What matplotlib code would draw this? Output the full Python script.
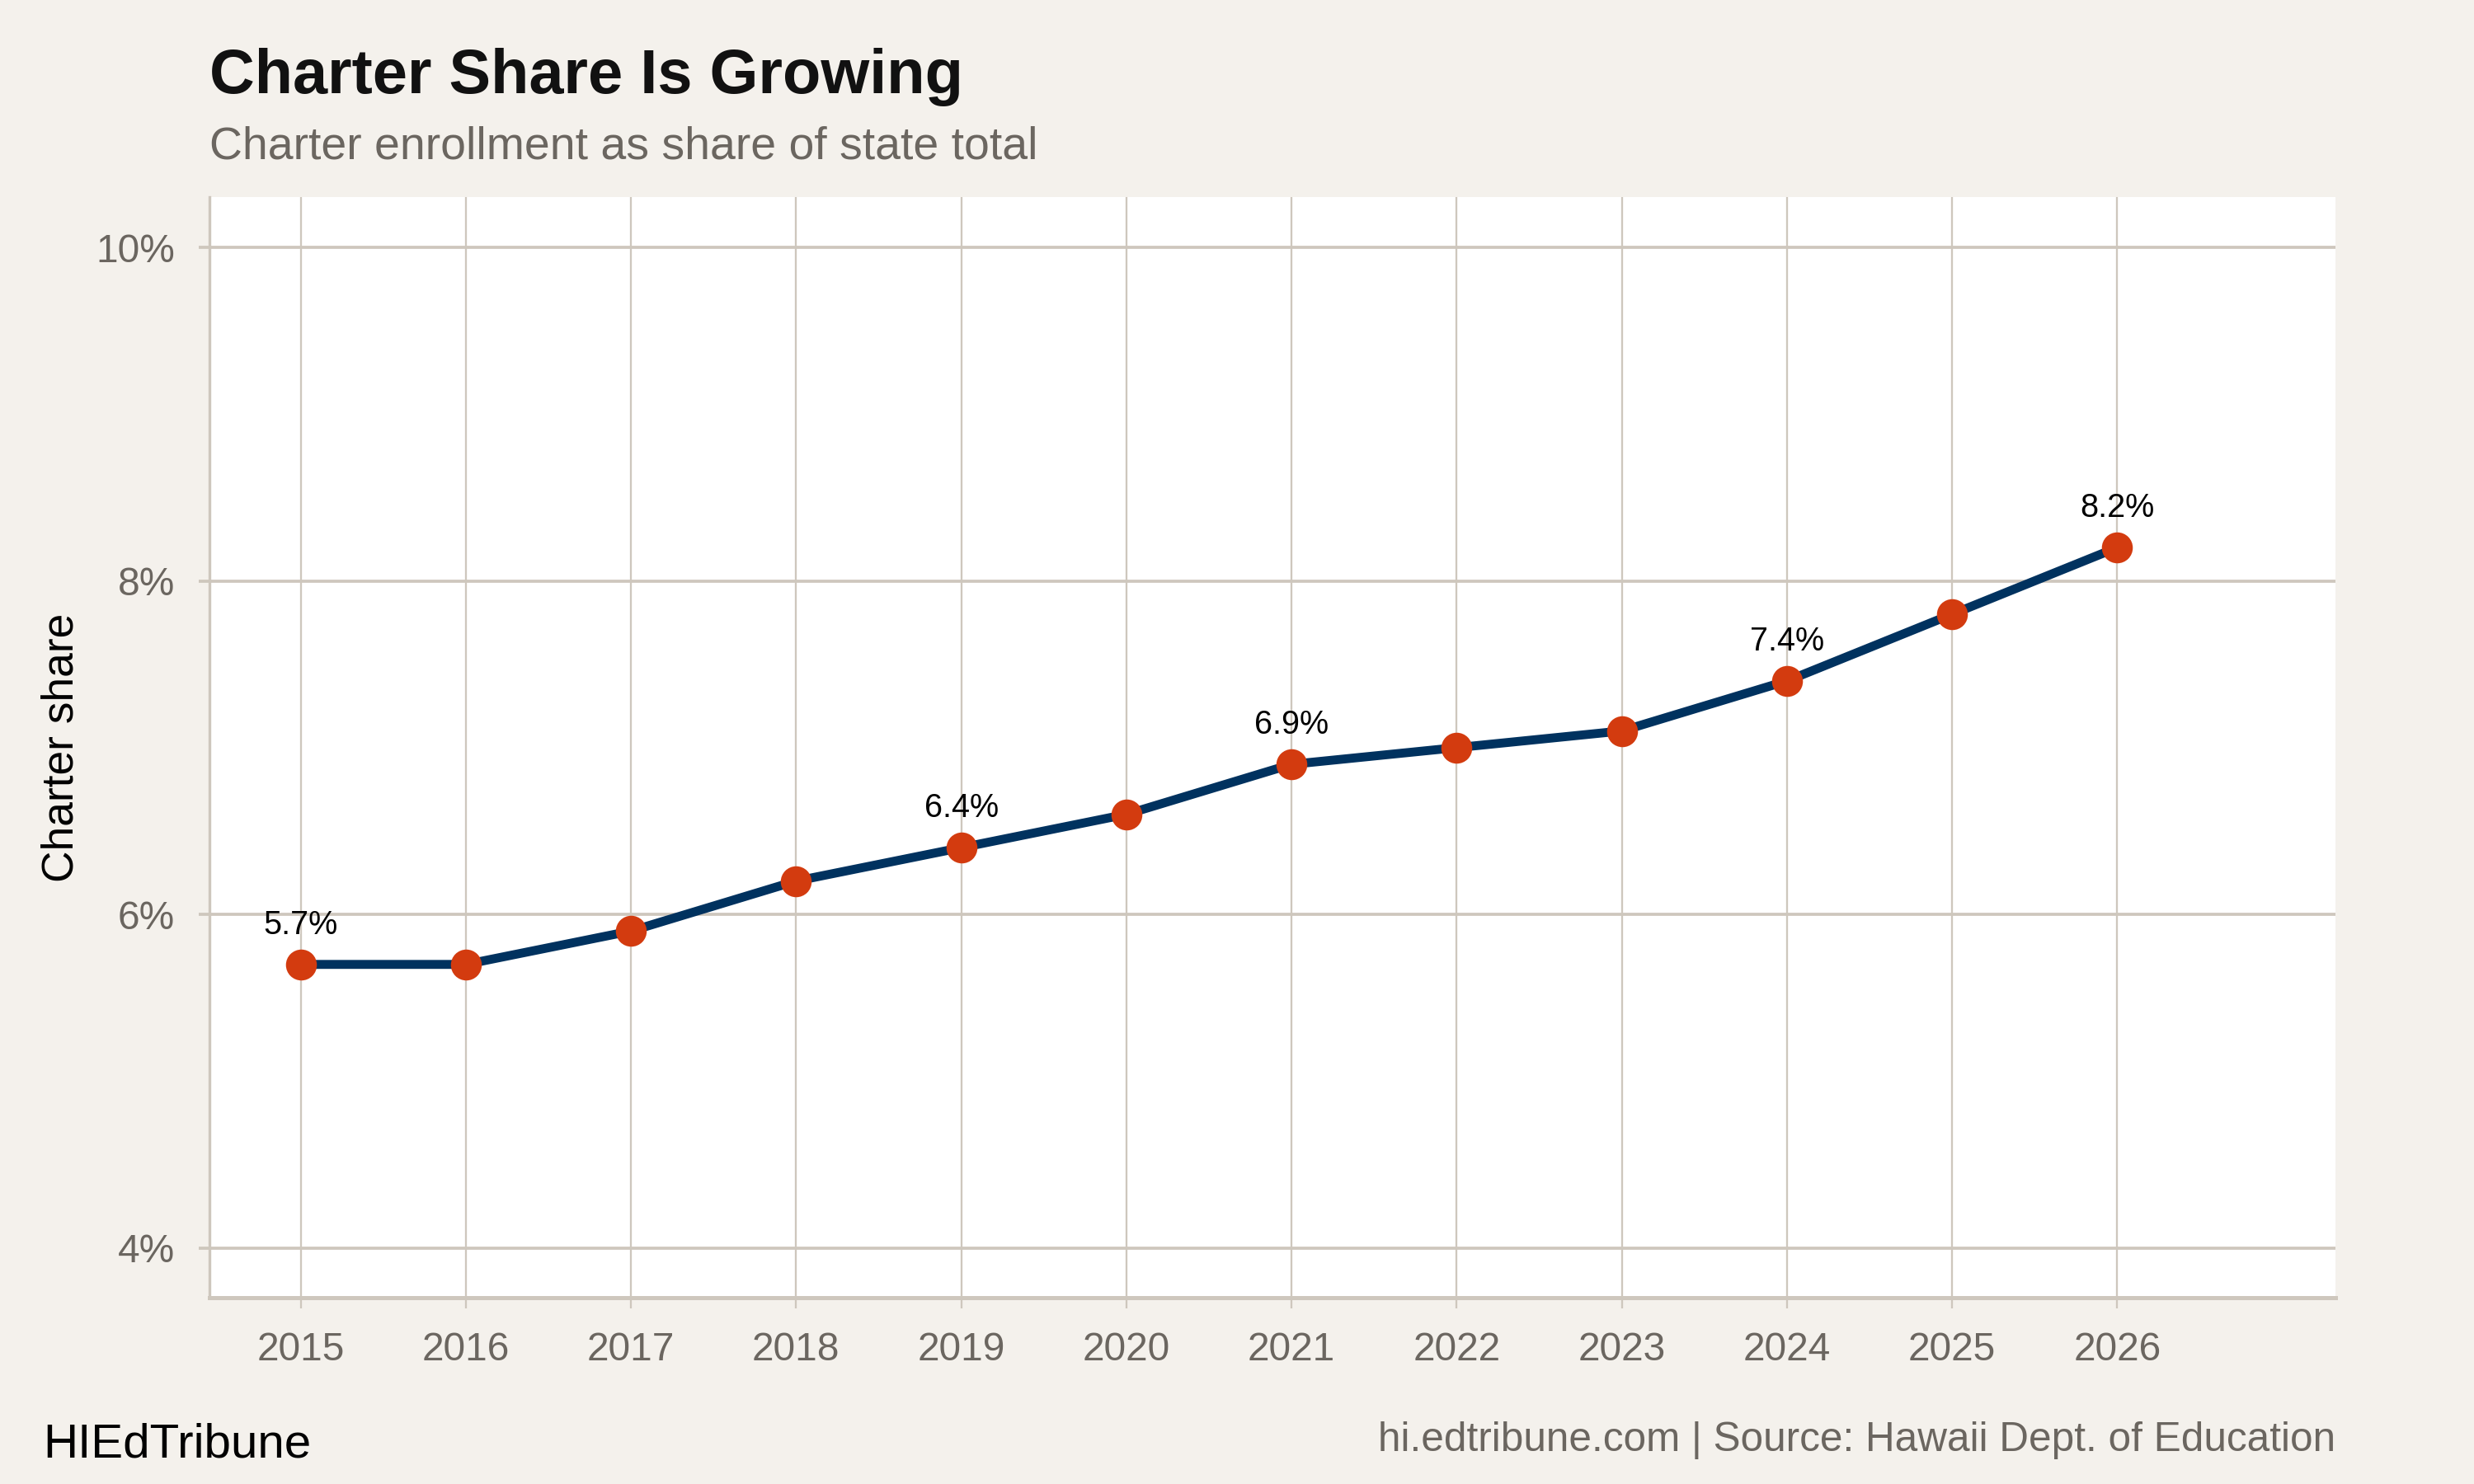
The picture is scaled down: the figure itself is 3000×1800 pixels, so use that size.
#!/usr/bin/env python3
"""Charter share of state enrollment, 2015-2026 (HIEdTribune style)."""
import matplotlib
matplotlib.use("Agg")
import matplotlib.pyplot as plt
from matplotlib.ticker import FuncFormatter

years = [2015, 2016, 2017, 2018, 2019, 2020, 2021, 2022, 2023, 2024, 2025, 2026]
share = [5.7, 5.7, 5.9, 6.2, 6.4, 6.6, 6.9, 7.0, 7.1, 7.4, 7.8, 8.2]
labelled_years = [2015, 2019, 2021, 2024, 2026]
y_ticks = [4, 6, 8, 10]

BG = "#f4f1ec"
GRID = "#cec7bd"
NAVY = "#00325f"
ORANGE = "#d33b0f"
GREY_TXT = "#6b6660"

plt.rcParams["font.family"] = ["Liberation Sans", "DejaVu Sans"]

fig = plt.figure(figsize=(10, 6), dpi=300, facecolor=BG)
ax = fig.add_axes([0.0848, 0.1254, 0.8591, 0.7416])
ax.set_facecolor("white")

ax.plot(years, share, color=NAVY, lw=2.6, zorder=3, solid_capstyle="round")
ax.plot(years, share, "o", color=ORANGE, ms=8, mec=ORANGE, zorder=4)

for yr, v in zip(years, share):
    if yr in labelled_years:
        ax.annotate(f"{v:.1f}%", (yr, v), xytext=(0, 7), textcoords="offset points",
                    ha="center", va="bottom", fontsize=9.5, color="black")

ax.set_xlim(2014.45, 2027.32)
ax.set_ylim(3.7, 10.3)
ax.set_xticks(years)
ax.set_yticks(y_ticks)
ax.yaxis.set_major_formatter(FuncFormatter(lambda v, _: f"{v:.0f}%"))

ax.grid(axis="x", color=GRID, lw=0.55)
ax.grid(axis="y", color=GRID, lw=0.9)
ax.set_axisbelow(True)

for side in ("top", "right"):
    ax.spines[side].set_visible(False)
ax.spines["left"].set_color(GRID)
ax.spines["left"].set_linewidth(0.8)
ax.spines["bottom"].set_color(GRID)
ax.spines["bottom"].set_linewidth(1.2)

ax.tick_params(axis="x", length=3.2, width=0.55, color=GRID, pad=6.5,
               labelsize=11.5, labelcolor=GREY_TXT)
ax.tick_params(axis="y", length=3.2, width=0.9, color=GRID, pad=7,
               labelsize=11.5, labelcolor=GREY_TXT)

ax.set_ylabel("Charter share", fontsize=12.8, color="black", labelpad=4)

fig.text(0.0848, 0.937, "Charter Share Is Growing", fontsize=18.2,
         fontweight="bold", color="#111111", va="baseline", ha="left")
fig.text(0.0848, 0.893, "Charter enrollment as share of state total",
         fontsize=13.3, color=GREY_TXT, va="baseline", ha="left")
fig.text(0.0173, 0.0183, "HIEdTribune", fontsize=14, color="black",
         va="baseline", ha="left")
fig.text(0.9439, 0.022, "hi.edtribune.com | Source: Hawaii Dept. of Education",
         fontsize=11.9, color=GREY_TXT, va="baseline", ha="right")

fig.savefig("out.png", dpi=300, facecolor=BG)
plt.close(fig)
